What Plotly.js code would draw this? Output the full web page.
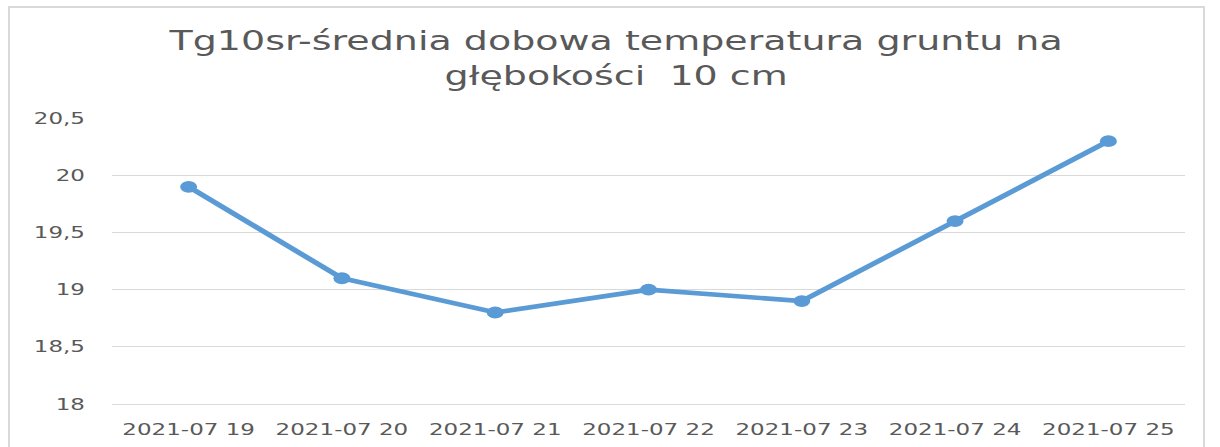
<!DOCTYPE html>
<html>
<head>
<meta charset="utf-8">
<script src="https://cdn.plot.ly/plotly-3.0.1.min.js"></script>
<style>
  html, body { margin: 0; padding: 0; background: #fff; overflow: hidden; width: 1220px; height: 447px; }
  #wrap { position: absolute; left: 0; top: 0; width: 1220px; height: 639px; transform: scaleY(0.7); transform-origin: 0 0; }
  #chart { width: 1220px; height: 639px; }
  #frame { position: absolute; left: 8px; top: 6px; width: 1193px; height: 470px; border: 2px solid #d9d9d9; pointer-events: none; }
</style>
</head>
<body>
<div id="wrap"><div id="chart"></div></div>
<div id="frame"></div>
<script>
const categories = ["2021-07 19", "2021-07 20", "2021-07 21", "2021-07 22", "2021-07 23", "2021-07 24", "2021-07 25"];
const tg10sr = [19.9, 19.1, 18.8, 19.0, 18.9, 19.6, 20.3];
const yTickVals = [18, 18.5, 19, 19.5, 20, 20.5];
const yTickText = ["18", "18,5", "19", "19,5", "20", "20,5"];
const titleText = "Tg10sr-średnia dobowa temperatura gruntu na<br>głębokości  10 cm";

const font = "DejaVu Sans, Verdana, sans-serif";
const trace = {
  x: categories,
  y: tg10sr,
  type: "scatter",
  mode: "lines+markers",
  line: { color: "#5b9bd5", width: 6.5 },
  marker: { color: "#5b9bd5", size: 17 },
  hoverinfo: "x+y"
};
const layout = {
  width: 1220,
  height: 639,
  margin: { l: 112, r: 35, t: 169, b: 62 },
  paper_bgcolor: "#ffffff",
  plot_bgcolor: "#ffffff",
  showlegend: false,
  title: {
    text: titleText,
    font: { family: font, size: 38, color: "#595959" },
    x: 0.505, xref: "container", xanchor: "center",
    y: 1 - 72 / 639, yref: "container", yanchor: "top"
  },
  xaxis: {
    type: "category",
    range: [-0.5, 6.5],
    showgrid: false,
    showline: true,
    linecolor: "#d9d9d9",
    linewidth: 2,
    zeroline: false,
    ticks: "",
    ticklabelstandoff: 15,
    tickfont: { family: font, size: 23, color: "#595959" }
  },
  yaxis: {
    range: [18, 20.5],
    tickvals: yTickVals,
    ticktext: yTickText,
    showgrid: true,
    gridcolor: "#d9d9d9",
    gridwidth: 1.5,
    zeroline: false,
    showline: false,
    ticks: "",
    ticklabelstandoff: 26,
    tickfont: { family: font, size: 23, color: "#595959" }
  }
};
Plotly.newPlot("chart", [trace], layout, { displayModeBar: false, staticPlot: true });
</script>
</body>
</html>
